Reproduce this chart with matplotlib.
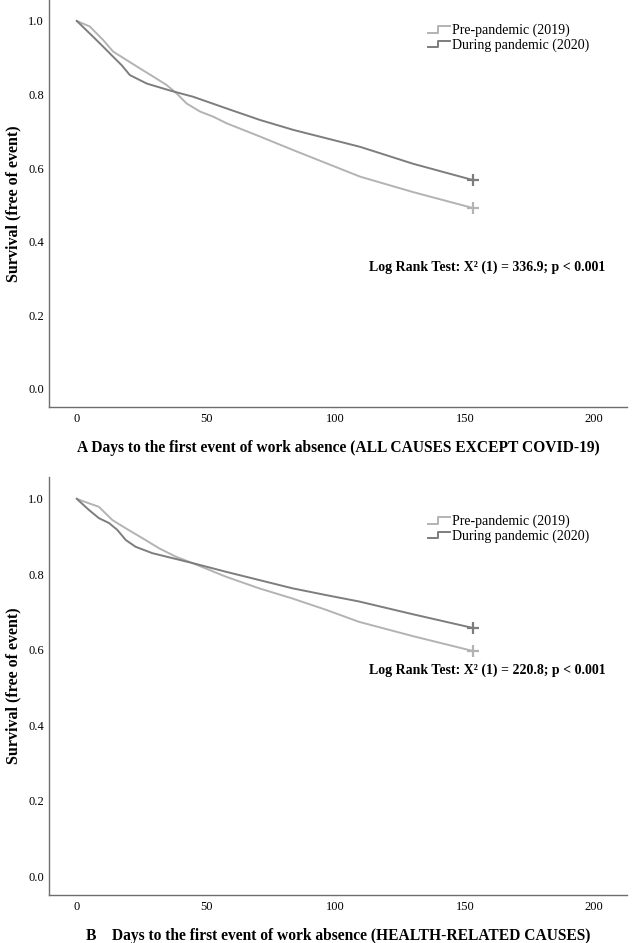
import matplotlib
matplotlib.use("Agg")
import matplotlib.pyplot as plt
from matplotlib.legend_handler import HandlerBase
from matplotlib.lines import Line2D

plt.rcParams['font.family'] = ['Liberation Serif', 'DejaVu Serif']

# Panel A: all causes except covid-19 (days, survival)
a_pre_days = [0, 5, 10.2, 14, 19.2, 24.4, 29.5, 34.7, 38.6, 42.4, 47.6, 52.7, 57.9, 70.8, 83.7, 96.6, 109.5, 130, 153]
a_pre_surv = [1.0, 0.985, 0.948, 0.917, 0.894, 0.871, 0.849, 0.826, 0.803, 0.776, 0.754, 0.740, 0.722, 0.686, 0.649, 0.613, 0.577, 0.535, 0.492]
a_dur_days = [0, 6.3, 10.2, 14, 17.3, 20.5, 27, 36, 45, 58, 70.8, 83.7, 96.6, 109.5, 130, 153]
a_dur_surv = [1.0, 0.957, 0.930, 0.903, 0.880, 0.853, 0.830, 0.811, 0.794, 0.762, 0.731, 0.704, 0.681, 0.658, 0.612, 0.568]

# Panel B: health-related causes
b_pre_days = [0, 2.7, 8.5, 13.7, 18.9, 25.3, 31.8, 38.2, 44.6, 51.1, 57.5, 70.4, 83.3, 96.3, 109.1, 130, 153]
b_pre_surv = [1.0, 0.993, 0.979, 0.944, 0.922, 0.896, 0.869, 0.847, 0.830, 0.812, 0.794, 0.763, 0.736, 0.706, 0.674, 0.636, 0.597]
b_dur_days = [0, 4.6, 8.5, 12.4, 15.6, 18.9, 22.7, 29.2, 36.9, 44.6, 57.5, 70.4, 83.3, 96.3, 109.1, 130, 153]
b_dur_surv = [1.0, 0.971, 0.949, 0.936, 0.918, 0.891, 0.873, 0.856, 0.843, 0.830, 0.807, 0.785, 0.763, 0.745, 0.728, 0.694, 0.658]

series_labels = ['Pre-pandemic (2019)', 'During pandemic (2020)']
x_ticks = [0, 50, 100, 150, 200]
y_ticks = [0.0, 0.2, 0.4, 0.6, 0.8, 1.0]

light = '#b3b3b3'
dark = '#7d7d7d'


# step-shaped legend symbol, like the SPSS output
class StepHandler(HandlerBase):
    def create_artists(self, legend, orig_handle, xdescent, ydescent, width, height, fontsize, trans):
        x0 = -xdescent
        y0 = -ydescent
        xs = [x0, x0 + width * 0.45, x0 + width * 0.45, x0 + width]
        ys = [y0 + height * 0.1, y0 + height * 0.1, y0 + height * 0.8, y0 + height * 0.8]
        ln = Line2D(xs, ys, color=orig_handle.get_color(), lw=orig_handle.get_linewidth(), transform=trans)
        return [ln]


def draw_panel(ax, pre_d, pre_s, dur_d, dur_s, test_txt, txt_y, title, leg_y):
    l1, = ax.plot(pre_d, pre_s, color=light, lw=1.4, label=series_labels[0])
    l2, = ax.plot(dur_d, dur_s, color=dark, lw=1.4, label=series_labels[1])
    ax.plot(pre_d[-1], pre_s[-1], '+', color=light, ms=8, mew=1.6)
    ax.plot(dur_d[-1], dur_s[-1], '+', color=dark, ms=8, mew=1.6)

    ax.set_xlim(-10.6, 212.8)
    ax.set_xticks(x_ticks)
    ax.set_yticks(y_ticks)
    ax.set_yticklabels(['%.1f' % v for v in y_ticks])
    ax.tick_params(length=0, labelsize=9, pad=4)
    for s in ['top', 'right']:
        ax.spines[s].set_visible(False)
    for s in ['left', 'bottom']:
        ax.spines[s].set_color('#6e6e6e')
        ax.spines[s].set_linewidth(1.0)

    ax.set_ylabel('Survival (free of event)', fontsize=11.5, fontweight='bold')
    ax.yaxis.set_label_coords(-0.048, 0.5)
    ax.set_xlabel(title, fontsize=11.2, fontweight='bold', labelpad=11)
    ax.text(113, txt_y, test_txt, fontsize=10, fontweight='bold', va='center')

    ax.legend([l1, l2], series_labels, handler_map={Line2D: StepHandler()},
              loc='upper left', bbox_to_anchor=(0.655, leg_y), frameon=False,
              fontsize=10, handlelength=1.6, handletextpad=0.15, labelspacing=0.1,
              borderaxespad=0, borderpad=0)


fig = plt.figure(figsize=(6.42, 9.43), dpi=100)
ax_a = fig.add_axes([0.077, 0.5684, 0.9, 0.4316])
ax_a.set_ylim(-0.049, 1.057)
ax_b = fig.add_axes([0.077, 0.0509, 0.9, 0.4433])
ax_b.set_ylim(-0.05, 1.058)

draw_panel(ax_a, a_pre_days, a_pre_surv, a_dur_days, a_dur_surv,
           'Log Rank Test: X² (1) = 336.9; p < 0.001', 0.33,
           'A Days to the first event of work absence (ALL CAUSES EXCEPT COVID-19)', 0.943)
draw_panel(ax_b, b_pre_days, b_pre_surv, b_dur_days, b_dur_surv,
           'Log Rank Test: X² (1) = 220.8; p < 0.001', 0.545,
           'B    Days to the first event of work absence (HEALTH-RELATED CAUSES)', 0.911)

fig.savefig('out.png', dpi=100)
